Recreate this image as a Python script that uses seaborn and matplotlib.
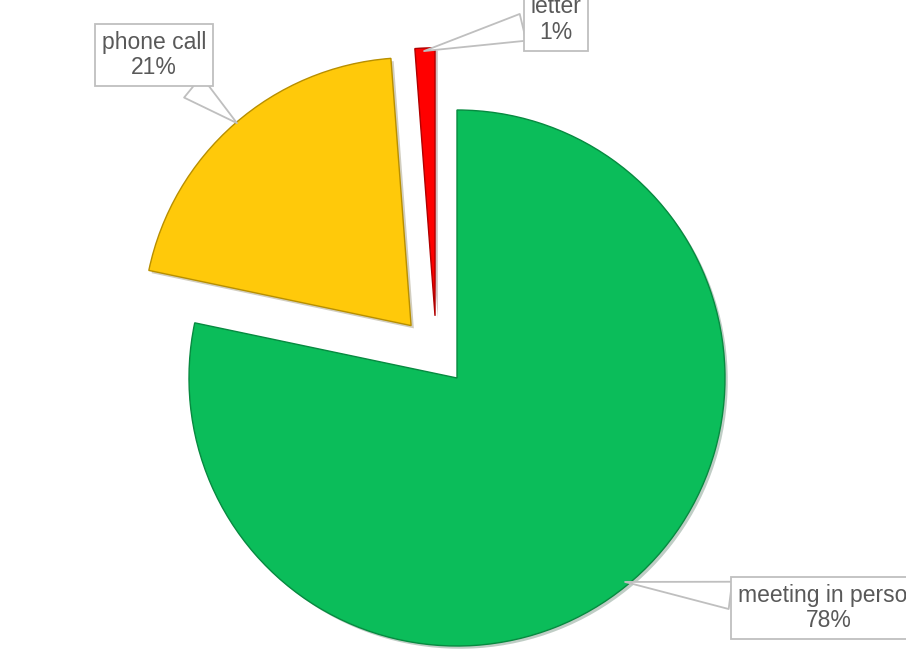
import matplotlib
matplotlib.use("Agg")
import matplotlib.pyplot as plt
import matplotlib.patheffects as pe
import seaborn as sns

# data (clockwise from 12 o'clock)
categories = ["meeting in person", "phone call", "letter"]
shares = [78.3, 20.5, 1.2]
labels = ["78%", "21%", "1%"]
colors = ["#0bbd5a", "#ffc90a", "#ff0000"]
edges = ["#078a40", "#b88f00", "#b00000"]

sns.set_theme(style="white")
plt.rcParams["font.family"] = ["Liberation Sans", "DejaVu Sans"]

fig = plt.figure(figsize=(9.06, 6.5), dpi=100)
ax = fig.add_axes([0, 0, 1, 1])

wedges, _ = ax.pie(shares, colors=colors, startangle=90, counterclock=False,
                   explode=[0, 0.26, 0.25],
                   wedgeprops=dict(linewidth=1.0))
for w, ec in zip(wedges, edges):
    w.set_edgecolor(ec)
    w.set_path_effects([pe.SimplePatchShadow(offset=(2, -2), alpha=0.25),
                        pe.Normal()])
# the letter slice is pulled out a bit more to the left in the original
wedges[2].set_center((-0.082, 0.232))

# pixel layout: pie centre at (457, 378), radius 268 px
ax.set_xlim(-457 / 268, (906 - 457) / 268)
ax.set_ylim(-(650 - 378) / 268, 378 / 268)
ax.set_aspect("equal", adjustable="box")
ax.axis("off")

# callout labels: (text centre, point on slice)
callouts = [
    ((1.388, -0.858), (0.627, -0.761)),
    ((-1.131, 1.205), (-0.821, 0.951)),
    ((0.369, 1.338), (-0.123, 1.220)),
]
for name, lab, (txt, pt) in zip(categories, labels, callouts):
    ax.annotate(f"{name}\n{lab}", xy=pt, xytext=txt,
                ha="center", va="center", fontsize=16.5, color="#595959",
                linespacing=1.15, annotation_clip=False,
                bbox=dict(boxstyle="square,pad=0.3", fc="white",
                          ec="#bfbfbf", lw=1.3),
                arrowprops=dict(arrowstyle="wedge,tail_width=1.2,shrink_factor=0.5",
                                fc="white", ec="#bfbfbf", lw=1.3,
                                shrinkA=0, shrinkB=0))

fig.savefig("out.png", dpi=100)
